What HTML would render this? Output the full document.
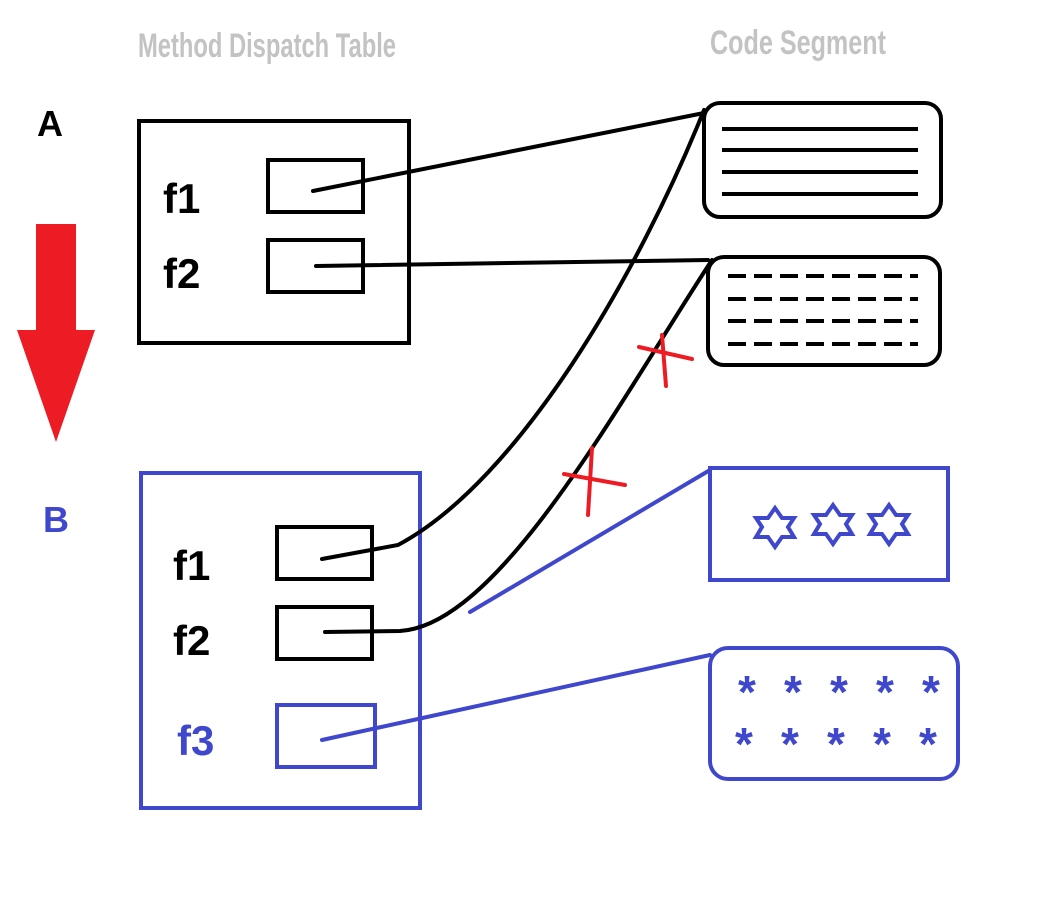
<!DOCTYPE html>
<html><head><meta charset="utf-8"><style>
html,body{margin:0;padding:0;background:#fff;}
svg{display:block;}
text{font-family:"Liberation Sans",sans-serif;}
</style></head><body>
<svg width="1038" height="897" viewBox="0 0 1038 897" xmlns="http://www.w3.org/2000/svg">
<text x="138" y="57" font-size="34" font-weight="bold" fill="#c3c3c3" font-family="Liberation Sans Narrow, Liberation Sans, sans-serif" textLength="258" lengthAdjust="spacingAndGlyphs">Method Dispatch Table</text>
<text x="710" y="54" font-size="34" font-weight="bold" fill="#c3c3c3" font-family="Liberation Sans Narrow, Liberation Sans, sans-serif" textLength="176" lengthAdjust="spacingAndGlyphs">Code Segment</text>

<text x="37" y="136" font-size="36" font-weight="bold" fill="#000">A</text>
<text x="43" y="532" font-size="36" font-weight="bold" fill="#3f48cc">B</text>

<polygon points="36,224 76,224 76,330 95,330 56,442 17,330 36,330" fill="#ed1c24"/>

<!-- Box A -->
<rect x="139" y="121" width="270" height="222" fill="none" stroke="#000" stroke-width="4"/>
<rect x="268" y="160" width="95" height="52" fill="none" stroke="#000" stroke-width="4"/>
<rect x="268" y="240" width="95" height="52" fill="none" stroke="#000" stroke-width="4"/>
<text x="163" y="213" font-size="42" font-weight="bold" fill="#000">f1</text>
<text x="163" y="288" font-size="42" font-weight="bold" fill="#000">f2</text>

<!-- Box B -->
<rect x="141" y="473" width="279" height="335" fill="none" stroke="#3f48cc" stroke-width="4"/>
<rect x="277" y="527" width="95" height="52" fill="none" stroke="#000" stroke-width="4"/>
<rect x="277" y="607" width="95" height="52" fill="none" stroke="#000" stroke-width="4"/>
<rect x="277" y="705" width="98" height="62" fill="none" stroke="#3f48cc" stroke-width="4"/>
<text x="173" y="580" font-size="42" font-weight="bold" fill="#000">f1</text>
<text x="173" y="655" font-size="42" font-weight="bold" fill="#000">f2</text>
<text x="177" y="755" font-size="42" font-weight="bold" fill="#3f48cc">f3</text>

<!-- Code boxes -->
<rect x="704" y="103" width="237" height="114" rx="16" fill="none" stroke="#000" stroke-width="4"/>
<g stroke="#000" stroke-width="4">
<line x1="722" y1="129" x2="918" y2="129"/><line x1="722" y1="150" x2="918" y2="150"/>
<line x1="722" y1="172" x2="918" y2="172"/><line x1="722" y1="194" x2="918" y2="194"/>
</g>
<rect x="708" y="257" width="232" height="108" rx="16" fill="none" stroke="#000" stroke-width="4"/>
<g stroke="#000" stroke-width="4" stroke-dasharray="18,8">
<line x1="728" y1="276" x2="918" y2="276"/><line x1="728" y1="299" x2="918" y2="299"/>
<line x1="728" y1="321" x2="918" y2="321"/><line x1="728" y1="344" x2="918" y2="344"/>
</g>
<rect x="710" y="468" width="238" height="112" fill="none" stroke="#3f48cc" stroke-width="4"/>
<g fill="none" stroke="#3f48cc" stroke-width="4">
<polygon points="775,508 782,518 794,518 788,527 794,537 782,537 775,547 768,537 756,537 762,527 756,518 768,518"/>
<polygon points="833,505 840,515 852,515 846,524 852,534 840,534 833,544 826,534 814,534 820,524 814,515 826,515"/>
<polygon points="889,505 896,515 908,515 902,524 908,534 896,534 889,544 882,534 870,534 876,524 870,515 882,515"/>
</g>
<rect x="710" y="648" width="248" height="131" rx="18" fill="none" stroke="#3f48cc" stroke-width="4"/>
<g fill="#3f48cc" font-size="46" font-weight="bold" text-anchor="middle">
<text x="747" y="708">*</text><text x="793" y="708">*</text><text x="839" y="708">*</text><text x="885" y="708">*</text><text x="931" y="708">*</text>
<text x="744" y="760">*</text><text x="790" y="760">*</text><text x="836" y="760">*</text><text x="882" y="760">*</text><text x="928" y="760">*</text>
</g>

<!-- Connectors -->
<g fill="none" stroke="#000" stroke-width="4" stroke-linecap="round">
<line x1="313" y1="191" x2="704" y2="113"/>
<line x1="316" y1="266" x2="708" y2="260"/>
<path d="M322,559 L398,545 C520,480 640,270 704,110"/>
<path d="M325,632 L400,631 C500,625 620,400 712,260"/>
</g>
<g stroke="#3f48cc" stroke-width="4" stroke-linecap="round">
<line x1="470" y1="612" x2="710" y2="470"/>
<line x1="322" y1="740" x2="710" y2="655"/>
</g>
<g stroke="#ed1c24" stroke-width="4" stroke-linecap="round">
<line x1="639" y1="347" x2="692" y2="359"/><line x1="662" y1="335" x2="666" y2="386"/>
<line x1="564" y1="474" x2="625" y2="485"/><line x1="592" y1="448" x2="588" y2="515"/>
</g>
</svg>
</body></html>
